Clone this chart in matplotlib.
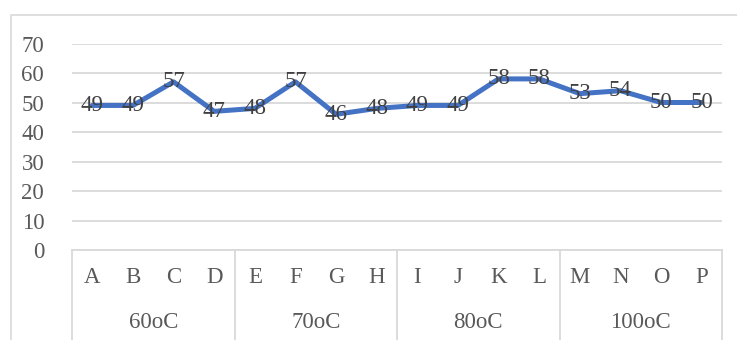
import matplotlib.pyplot as plt
import matplotlib.transforms as mtransforms
from matplotlib.patches import Rectangle

samples = ['A', 'B', 'C', 'D', 'E', 'F', 'G', 'H',
           'I', 'J', 'K', 'L', 'M', 'N', 'O', 'P']
values = [49, 49, 57, 47, 48, 57, 46, 48, 49, 49, 58, 58, 53, 54, 50, 50]
groups = ['60oC', '70oC', '80oC', '100oC']
group_size = [4, 4, 4, 4]

plt.rcParams['font.family'] = ['Liberation Serif', 'DejaVu Serif']
FS = 16.5

W, H = 737, 340
fig = plt.figure(figsize=(W / 100, H / 100), dpi=100)

# chart border (Excel style frame)
fig.patches.append(Rectangle((11 / W, -0.1), 1.0, 1 - 15 / H + 0.1,
                             transform=fig.transFigure, fill=False,
                             edgecolor='#d9d9d9', linewidth=1.2))

ax = fig.add_axes([72 / W, 1 - 250 / H, (722 - 72) / W, (250 - 43.5) / H])

xs = [i + 0.5 for i in range(len(values))]
ax.plot(xs, values, color='#4472c4', linewidth=3.6, solid_joinstyle='round',
        solid_capstyle='round', zorder=3)
for x, v in zip(xs, values):
    ax.text(x, v, str(v), ha='center', va='center', fontsize=FS,
            color='#404040', zorder=4)

ax.set_xlim(0, len(values))
ax.set_ylim(0, 70)
ax.set_yticks(range(0, 71, 10))
ax.tick_params(axis='y', length=0, pad=20, labelsize=FS, labelcolor='#595959')
ax.set_xticks([])
for s in ax.spines.values():
    s.set_visible(False)
ax.grid(axis='y', color='#d9d9d9', linewidth=1.3)
ax.set_axisbelow(True)

# multi-level category axis
trans = mtransforms.blended_transform_factory(ax.transData, ax.transAxes)
ax.plot([0, len(values)], [0, 0], color='#d9d9d9', linewidth=1.3,
        transform=trans, clip_on=False)
for x, lab in zip(xs, samples):
    ax.text(x, -0.135, lab, transform=trans, ha='center', va='center',
            fontsize=FS, color='#595959')
pos = 0
ax.plot([0, 0], [0, -0.6], color='#d9d9d9', linewidth=1.3,
        transform=trans, clip_on=False)
for g, n in zip(groups, group_size):
    ax.text(pos + n / 2, -0.35, g, transform=trans, ha='center', va='center',
            fontsize=FS, color='#595959')
    pos += n
    ax.plot([pos, pos], [0, -0.6], color='#d9d9d9', linewidth=1.3,
            transform=trans, clip_on=False)

fig.savefig('out.png', dpi=100)
